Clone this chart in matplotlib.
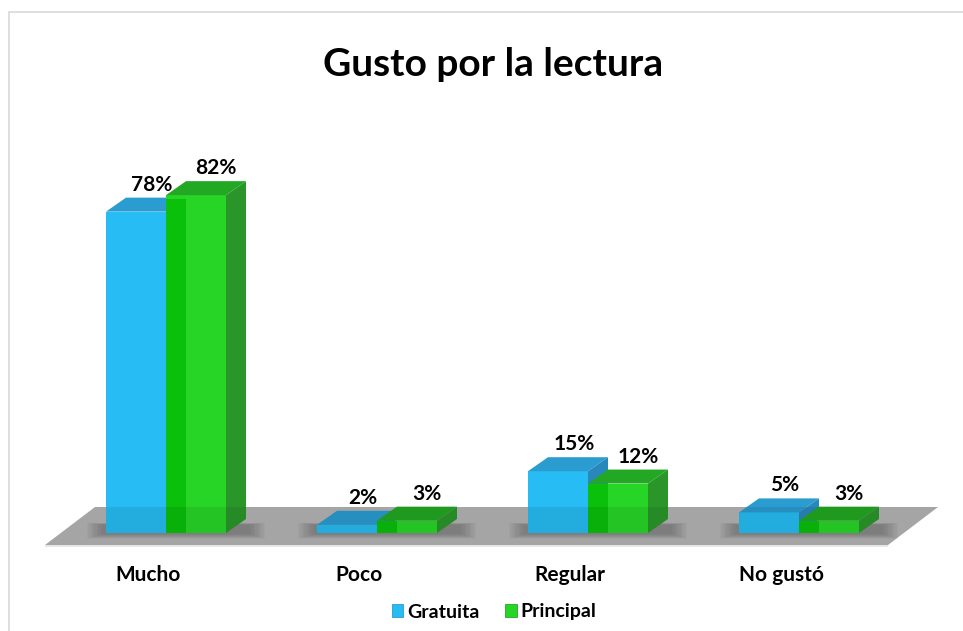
import matplotlib
matplotlib.use("Agg")
import matplotlib.pyplot as plt
from matplotlib.patches import Patch, Rectangle
import numpy as np

categories = ["Mucho", "Poco", "Regular", "No gustó"]
gratuita = [78, 2, 15, 5]
principal = [82, 3, 12, 3]
series_names = ["Gratuita", "Principal"]
title = "Gusto por la lectura"

plt.rcParams['font.family'] = ['Lato', 'DejaVu Sans']

W, H = 963, 631
fig = plt.figure(figsize=(W / 100, H / 100), dpi=100)
fig.patch.set_facecolor("white")

# chart border
fig.patches.append(Rectangle((9 / W, -0.1), 1.1, (H - 12) / H + 0.1, transform=fig.transFigure,
                             fill=False, edgecolor="#D9D9D9", lw=1.2))

# axes mapped to pixel geometry of reference
xl, xr = -0.70, 3.75
px_per_x = 211.0
px_per_y = 4.12
left_px = 166 + xl * px_per_x
right_px = 166 + xr * px_per_x
y0_px = H - 533  # from bottom
yb, yt = -4, 100
ax = fig.add_axes([left_px / W, (y0_px + yb * px_per_y) / H,
                   (right_px - left_px) / W, (yt - yb) * px_per_y / H])
ax.set_xlim(xl, xr)
ax.set_ylim(yb, yt)
ax.axis("off")

bw = 60 / px_per_x          # bar width in x units
ddx = 20 / px_per_x         # depth offset x
ddy = 14 / px_per_y         # depth offset y (in %)
x = np.arange(len(categories))

# floor
f_front, f_back = -12 / px_per_y, 26 / px_per_y
fl_x0 = (45 - 166) / px_per_x
fl_x1 = (888 - 166) / px_per_x
fl_off = 50 / px_per_x
floor_x = [fl_x0, fl_x1, fl_x1 + fl_off, fl_x0 + fl_off]
floor_y = [f_front, f_front, f_back, f_back]
ax.fill(floor_x, floor_y, color="#B4B4B4", zorder=1, lw=0)
ax.fill([fl_x0, fl_x1, fl_x1, fl_x0], [f_front, f_front, f_front - 0.6, f_front - 0.6],
        color="#E6E6E6", zorder=1, lw=0)

# soft shadows under bar groups
for i in x:
    for k in range(10):
        g = k * 0.008
        ax.fill([i - bw - 0.02 - g, i + bw + ddx + 0.02 + g, i + bw + ddx + 0.02 + g, i - bw - 0.02 - g],
                [-0.3 - k * 0.12, -0.3 - k * 0.12, ddy * 0.6 + k * 0.05, ddy * 0.6 + k * 0.05],
                color="#3A3A3A", alpha=0.04, lw=0, zorder=2)

blue_front, blue_top, blue_side = "#27BCF3", "#2A9CD0", "#2888BB"
green_front, green_top, green_side, green_strip = "#27D527", "#22A822", "#2A962A", "#0BC00B"


def draw_box(xl_, val, front, top, side, z):
    xr_ = xl_ + bw
    ax.bar(xl_, val, width=bw, align="edge", color=front, lw=0, zorder=z)
    ax.fill([xl_, xr_, xr_ + ddx, xl_ + ddx], [val, val, val + ddy, val + ddy],
            color=top, lw=0, zorder=z)
    ax.fill([xr_, xr_ + ddx, xr_ + ddx, xr_], [0, ddy, val + ddy, val],
            color=side, lw=0, zorder=z)


for i in x:
    g, p = gratuita[i], principal[i]
    draw_box(i - bw, g, blue_front, blue_top, blue_side, 3)
    draw_box(i, p, green_front, green_top, green_side, 4)
    sh = min(p, g + ddy * 0.9)
    ax.bar(i, sh, width=ddx, align="edge", color=green_strip, lw=0, zorder=4.5)

# translucent floor overlay darkening bar bottoms
ax.fill(floor_x, floor_y, color="black", alpha=0.08, zorder=5, lw=0)

# value labels
lab_gap = 13 / px_per_y
for i in x:
    ax.text(i - bw / 2 + ddx * 0.8, gratuita[i] + ddy + lab_gap, f"{gratuita[i]}%",
            ha="center", va="center", fontsize=15, fontweight="bold", color="black", zorder=6)
    ax.text(i + bw / 2 + ddx, principal[i] + ddy + lab_gap, f"{principal[i]}%",
            ha="center", va="center", fontsize=15, fontweight="bold", color="black", zorder=6)

# category labels
for i, c in enumerate(categories):
    ax.text(i - 0.085, -10.2, c, ha="center", va="center", fontsize=15,
            fontweight="bold", color="black")

fig.text(493 / W, 1 - 65 / H, title, ha="center", va="center", fontsize=28,
         fontweight="bold", color="black")

handles = [Patch(facecolor=blue_front, edgecolor=blue_top, lw=0.6),
           Patch(facecolor=green_front, edgecolor=green_top, lw=0.6)]
leg = fig.legend(handles, series_names, loc="center", bbox_to_anchor=(494 / W, 1 - 612 / H),
                 ncol=2, frameon=False, prop={"weight": "bold", "size": 14},
                 handlelength=0.6, handleheight=0.6, handletextpad=0.2, columnspacing=1.3)

fig.savefig("out.png", dpi=100, facecolor="white")
